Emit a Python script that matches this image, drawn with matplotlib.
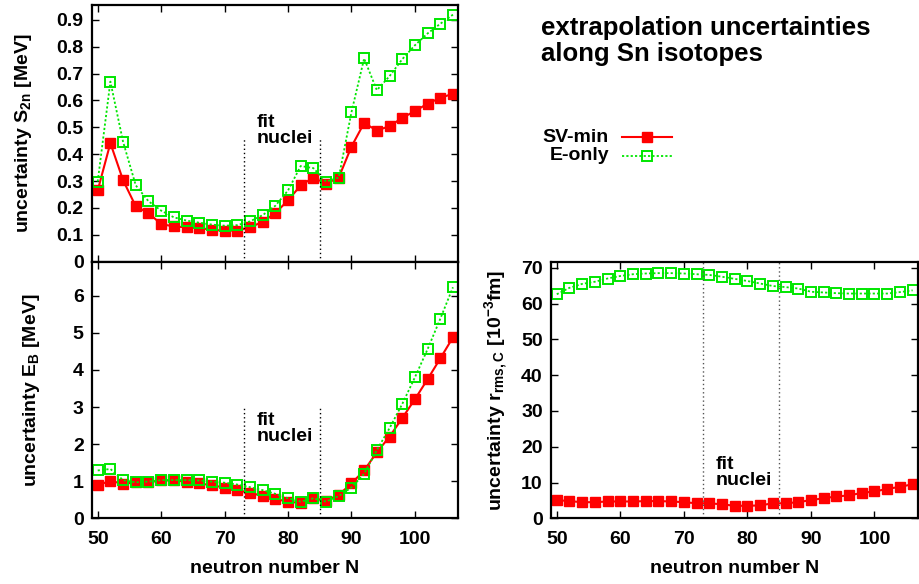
import numpy as np
import matplotlib
matplotlib.use('Agg')
import matplotlib.pyplot as plt
from matplotlib.lines import Line2D

plt.rcParams['font.family'] = ['Liberation Sans', 'DejaVu Sans']
plt.rcParams['font.weight'] = 'bold'
plt.rcParams['mathtext.fontset'] = 'custom'
plt.rcParams['mathtext.rm'] = 'Liberation Sans:bold'
plt.rcParams['mathtext.bf'] = 'Liberation Sans:bold'
plt.rcParams['mathtext.default'] = 'bf'

# neutron numbers along the Sn chain
N = np.arange(50, 107, 2)

# uncertainty of S2n [MeV]
s2n_svmin = [0.265, 0.441, 0.303, 0.206, 0.181, 0.140, 0.131, 0.128, 0.125, 0.119,
             0.115, 0.116, 0.128, 0.148, 0.181, 0.228, 0.284, 0.313, 0.290, 0.313,
             0.428, 0.516, 0.488, 0.504, 0.535, 0.560, 0.588, 0.609, 0.625]
s2n_eonly = [0.298, 0.670, 0.446, 0.284, 0.225, 0.190, 0.165, 0.153, 0.145, 0.138,
             0.134, 0.136, 0.150, 0.173, 0.208, 0.265, 0.356, 0.348, 0.298, 0.313,
             0.556, 0.756, 0.638, 0.690, 0.753, 0.805, 0.849, 0.885, 0.919]

# uncertainty of E_B [MeV]
eb_svmin = [0.89, 1.01, 0.93, 0.97, 0.97, 1.02, 1.02, 0.99, 0.94, 0.89,
            0.83, 0.76, 0.69, 0.60, 0.53, 0.44, 0.42, 0.54, 0.48, 0.63,
            0.94, 1.29, 1.78, 2.20, 2.70, 3.21, 3.75, 4.31, 4.88]
eb_eonly = [1.29, 1.33, 1.03, 0.97, 0.99, 1.03, 1.03, 1.03, 1.02, 0.99,
            0.96, 0.91, 0.84, 0.76, 0.66, 0.54, 0.45, 0.54, 0.45, 0.60,
            0.83, 1.20, 1.84, 2.43, 3.08, 3.80, 4.56, 5.38, 6.23]

# uncertainty of r_rms,C [1e-3 fm]
rc_svmin = [5.1, 4.8, 4.5, 4.5, 4.7, 4.7, 4.7, 4.8, 4.8, 4.7,
            4.5, 4.2, 4.2, 3.9, 3.5, 3.5, 3.6, 4.2, 4.2, 4.5,
            5.1, 5.6, 6.1, 6.4, 7.1, 7.5, 8.2, 8.8, 9.5]
rc_eonly = [62.6, 64.4, 65.5, 66.1, 67.0, 67.7, 68.2, 68.4, 68.5, 68.5,
            68.4, 68.2, 68.0, 67.5, 66.9, 66.3, 65.6, 64.9, 64.6, 64.2,
            63.3, 63.1, 62.9, 62.8, 62.8, 62.8, 62.8, 63.2, 63.7]

fit_range = [73, 85]

RED = '#ff0000'
GREEN = '#00e600'
FS = 14


def draw_panel(ax, y1, y2, ylim, yticks, fit_top, fit_text_y, dot_color='black'):
    ax.plot(N, y1, color=RED, lw=1.5, marker='s', ms=7, mfc=RED, mec=RED)
    ax.plot(N, y2, color=GREEN, lw=1.3, ls=(0, (1.2, 1.2)), marker='s', ms=7,
            mfc='none', mec=GREEN, mew=1.4)
    for xv in fit_range:
        ax.plot([xv, xv], [0, fit_top], color=dot_color, lw=1, ls=(0, (1, 2)))
    ax.text(75, fit_text_y, 'fit\nnuclei', fontsize=FS, fontweight='bold',
            ha='left', va='top', linespacing=0.95)
    ax.set_xlim(49.1, 106.8)
    ax.set_ylim(*ylim)
    ax.set_yticks(yticks)
    ax.set_xticks([50, 60, 70, 80, 90, 100])
    ax.tick_params(direction='in', length=5, width=1, top=True, right=True,
                   labelsize=FS, pad=6)
    ax.tick_params(axis='x', pad=9)
    for sp in ax.spines.values():
        sp.set_linewidth(1.6)


fig = plt.figure(figsize=(9.19, 5.84), dpi=100)

ax1 = fig.add_axes([0.1001, 0.5519, 0.3983, 0.4396])
draw_panel(ax1, s2n_svmin, s2n_eonly, (0, 0.955), np.arange(0, 0.91, 0.1),
           0.457, 0.55)
ax1.set_yticklabels(['0'] + ['%.1f' % v for v in np.arange(0.1, 0.91, 0.1)])
ax1.tick_params(labelbottom=False)
ax1.set_ylabel(r'uncertainty S$_{2n}$ [MeV]', fontsize=FS, fontweight='bold',
               labelpad=16)

ax2 = fig.add_axes([0.1001, 0.1125, 0.3983, 0.4394])
draw_panel(ax2, eb_svmin, eb_eonly, (0, 6.92), range(0, 7), 3.0, 2.88)
ax2.set_ylabel(r'uncertainty E$_B$ [MeV]', fontsize=FS, fontweight='bold',
               labelpad=22)
ax2.set_xlabel('neutron number N', fontsize=FS, fontweight='bold', labelpad=9)

ax3 = fig.add_axes([0.5996, 0.1125, 0.3990, 0.4394])
draw_panel(ax3, rc_svmin, rc_eonly, (0, 71.7), range(0, 71, 10), 71.7, 17.5,
           dot_color='#555555')
ax3.set_ylabel(r'uncertainty r$_{rms,C}$ [10$^{-3}$fm]', fontsize=FS,
               fontweight='bold', labelpad=8)
ax3.set_xlabel('neutron number N', fontsize=FS, fontweight='bold', labelpad=9)

# title
fig.text(541 / 919, 1 - 16 / 584, 'extrapolation uncertainties\nalong Sn isotopes',
         fontsize=18.5, fontweight='bold', ha='left', va='top', linespacing=1.1)

# legend, gnuplot style (label left of sample)
W, H = 919, 584
entries = [('SV-min', 137, dict(color=RED, lw=1.5, mfc=RED, mec=RED)),
           ('E-only', 156, dict(color=GREEN, lw=1.3, ls=(0, (1.2, 1.2)), mfc='none',
                                mec=GREEN, mew=1.4))]
for label, ypx, style in entries:
    yf = 1 - ypx / H
    fig.text(609 / W, yf, label, fontsize=FS, fontweight='bold', ha='right', va='center')
    fig.add_artist(Line2D([622 / W, 672 / W], [yf, yf], transform=fig.transFigure,
                          **style))
    fig.add_artist(Line2D([647 / W], [yf], transform=fig.transFigure, marker='s',
                          ms=7, **{k: v for k, v in style.items() if k != 'ls'}))

fig.savefig('out.png', dpi=100)
